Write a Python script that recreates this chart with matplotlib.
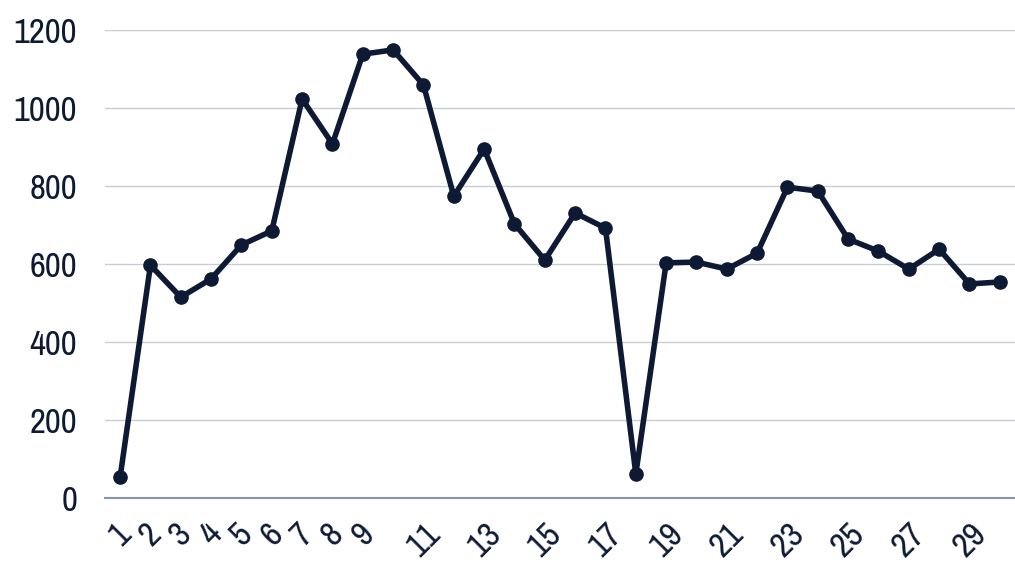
import matplotlib
matplotlib.use("Agg")
import matplotlib.pyplot as plt
from matplotlib import font_manager

# values
days = list(range(1, 31))
counts = [54, 597, 515, 562, 649, 685, 1023, 908, 1138, 1149,
          1059, 774, 895, 703, 610, 731, 692, 62, 603, 605,
          587, 628, 797, 787, 664, 633, 587, 638, 549, 554]
tick_labels = [str(d) if (d < 10 or d % 2 == 1) else "" for d in days]
y_ticks = [0, 200, 400, 600, 800, 1000, 1200]

names = {f.name for f in font_manager.fontManager.ttflist}
if "Archivo Narrow" in names:
    family = "Archivo Narrow"
else:
    condensed = sorted(n for n in names if "Condensed" in n or "Narrow" in n)
    family = condensed[0] if condensed else "DejaVu Sans"
plt.rcParams["font.family"] = [family, "DejaVu Sans"]
plt.rcParams["font.stretch"] = "condensed"

navy = "#0e1a33"

fig = plt.figure(figsize=(10.15, 5.66), dpi=100)
ax = fig.add_axes([0.1034, 0.12, 0.8966, 0.827])

ax.plot(days, counts, color=navy, linewidth=4.0, marker="o", markersize=9.5,
        solid_joinstyle="round", zorder=3)

ax.set_xlim(0.5, 30.5)
ax.set_ylim(0, 1200)
ax.set_yticks(y_ticks)
ax.set_yticklabels([str(v) for v in y_ticks])
ax.set_xticks(days)
ax.set_xticklabels(tick_labels, rotation=45, ha="center", va="top")

ax.grid(axis="y", color="#c8ccd4", linewidth=1.0)
ax.set_axisbelow(True)
for side in ("top", "right", "left"):
    ax.spines[side].set_visible(False)
ax.spines["bottom"].set_color("#8a96a8")
ax.spines["bottom"].set_linewidth(1.5)

ax.tick_params(axis="both", length=0, labelcolor=navy, labelsize=25)
ax.tick_params(axis="y", pad=20)
ax.tick_params(axis="x", pad=14)

fig.savefig("out.png", dpi=100)
